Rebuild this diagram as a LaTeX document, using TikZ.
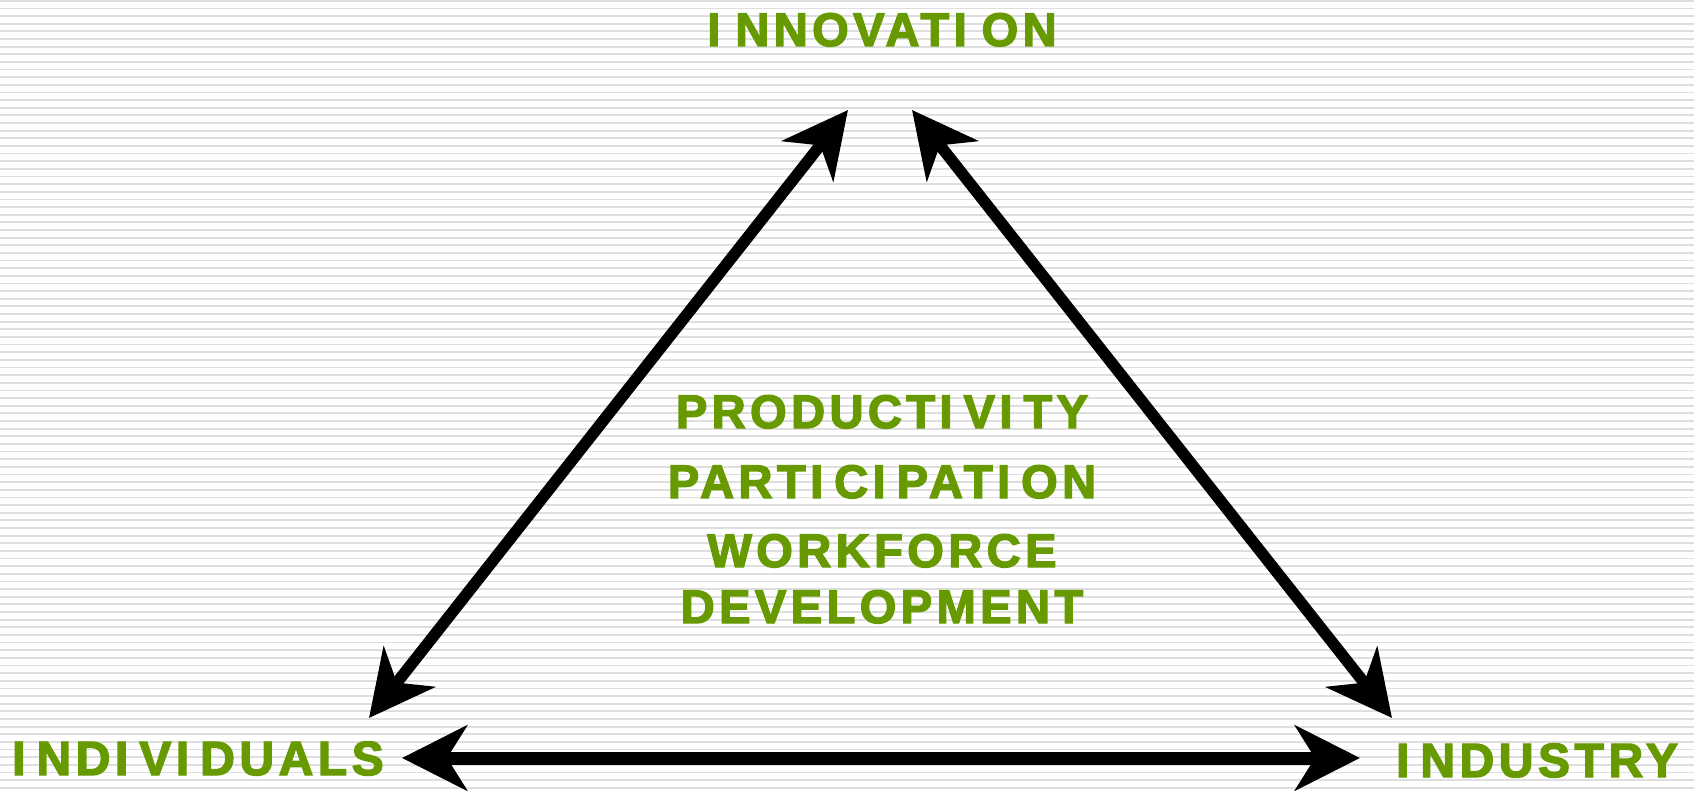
\documentclass[tikz,border=0pt]{standalone}
\usepackage{fontspec}
\newfontfamily\lab{Liberation Sans}[LetterSpace=9.5,FakeBold=3]
\usetikzlibrary{arrows.meta}
\definecolor{lblgreen}{RGB}{103,154,1}
\definecolor{stripegray}{RGB}{222,222,222}
\newcommand\Ispc{I\kern11pt}
\tikzset{
  lbl/.style={text=lblgreen, font=\lab\bfseries\fontsize{47}{56}\selectfont, inner sep=0pt, anchor=base},
  biglbl/.style={lbl, font=\lab\bfseries\fontsize{48}{56}\selectfont},
  conn/.style={line width=11.5pt, {Stealth[length=65pt,width=65pt,inset=20pt]}-{Stealth[length=65pt,width=65pt,inset=20pt]}},
  stripe/.style={draw=stripegray, line width=1.8pt},
}
\begin{document}
\begin{tikzpicture}[x=1pt,y=-1pt]
\useasboundingbox (0,0) rectangle (1694,791);
\fill[white] (0,0) rectangle (1694,791);
\foreach \i in {0,...,103} \draw[stripe] (0,{\i*7.64+0.8}) -- (1694,{\i*7.64+0.8});
% labels
\node[lbl] (innov) at (882,46) {\Ispc\kern4pt NNOVAT\Ispc\kern4pt ON};
\node[biglbl] (indiv) at (198,775) {\Ispc ND\Ispc V\Ispc DUALS};
\node[biglbl] (indus) at (1537,777) {\Ispc NDUSTRY};
\node[lbl] (prod) at (882,428) {PRODUCT\Ispc V\Ispc TY};
\node[lbl] (part) at (882,498) {PART\Ispc C\Ispc PAT\Ispc ON};
\node[lbl] (wf) at (882,567) {WORKFORCE};
\node[lbl] (dev) at (882,623) {DEVELOPMENT};
% arrow end points
\coordinate (innL) at (848,110);
\coordinate (innR) at (912,110);
\coordinate (indivT) at (369,718);
\coordinate (indivR) at (402,758);
\coordinate (indusT) at (1392,718);
\coordinate (indusL) at (1360,758);
\draw[conn] (indivT) -- (innL);
\draw[conn] (innR) -- (indusT);
\draw[conn, line width=13pt] (indivR) -- (indusL);
\end{tikzpicture}
\end{document}
